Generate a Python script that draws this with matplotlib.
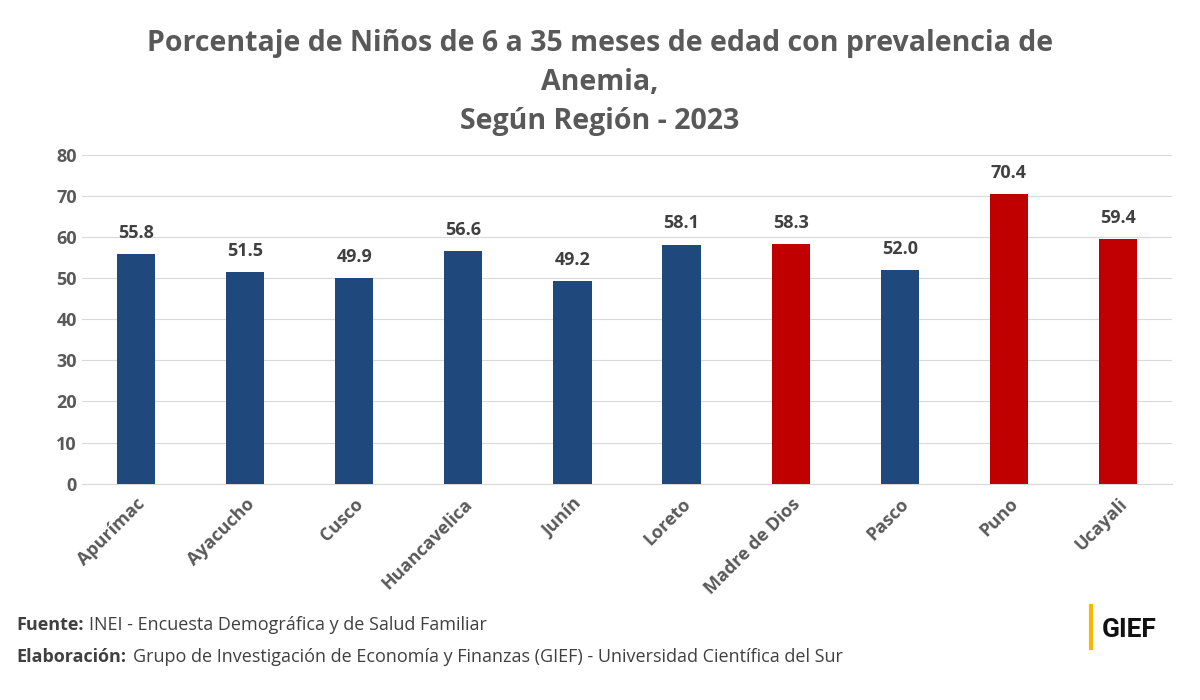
import matplotlib
matplotlib.use("Agg")
import matplotlib.pyplot as plt

regions = ["Apurímac","Ayacucho","Cusco","Huancavelica","Junín","Loreto","Madre de Dios","Pasco","Puno","Ucayali"]
values = [55.8,51.5,49.9,56.6,49.2,58.1,58.3,52.0,70.4,59.4]
highlight = [False,False,False,False,False,False,True,False,True,True]

plt.rcParams['font.family'] = ['Open Sans', 'DejaVu Sans']
fig = plt.figure(figsize=(12,7), dpi=100)
ax = fig.add_axes([0.068, 0.309, 0.909, 0.47])
colors = ["#C00000" if h else "#1F497D" for h in highlight]
x = range(len(regions))
ax.bar(x, values, width=0.35, color=colors, zorder=3)
for i, v in zip(x, values):
    ax.text(i, v + 3, f"{v:.1f}", ha="center", va="bottom", fontsize=13, fontweight="bold", color="#404040")
ax.set_ylim(0, 80)
ax.set_xlim(-0.5, len(regions)-0.5)
ax.set_yticks(range(0, 81, 10))
ax.grid(axis="y", color="#D9D9D9", zorder=0)
for s in ["top","right","left"]:
    ax.spines[s].set_visible(False)
ax.spines["bottom"].set_color("#D9D9D9")
ax.tick_params(axis="both", length=0, labelsize=13, labelcolor="#595959")
ax.tick_params(axis="x", pad=8)
ax.set_xticks(list(x))
ax.set_xticklabels(regions, rotation=45, ha="right", rotation_mode="anchor", fontweight="bold")
for lbl in ax.get_yticklabels():
    lbl.set_fontweight("bold")

fig.text(0.5, 0.958, "Porcentaje de Niños de 6 a 35 meses de edad con prevalencia de\nAnemia,\nSegún Región - 2023",
         ha="center", va="top", fontsize=20.5, fontweight="bold", color="#595959", linespacing=1.45)
fig.text(0.014, 0.100, "Fuente:", fontsize=13, color="#404040", fontweight="bold")
fig.text(0.074, 0.100, "INEI - Encuesta Demográfica y de Salud Familiar", fontsize=13, color="#404040")
fig.text(0.014, 0.055, "Elaboración:", fontsize=13, color="#404040", fontweight="bold")
fig.text(0.111, 0.055, "Grupo de Investigación de Economía y Finanzas (GIEF) - Universidad Científica del Sur", fontsize=13, color="#404040")
fig.add_artist(plt.Line2D([0.909, 0.909], [0.075, 0.135], color="#F5B800", lw=3))
fig.text(0.918, 0.1, "GIEF", fontsize=19, fontweight="bold", color="#111111", va="center", family="Roboto")
fig.savefig("out.png")
